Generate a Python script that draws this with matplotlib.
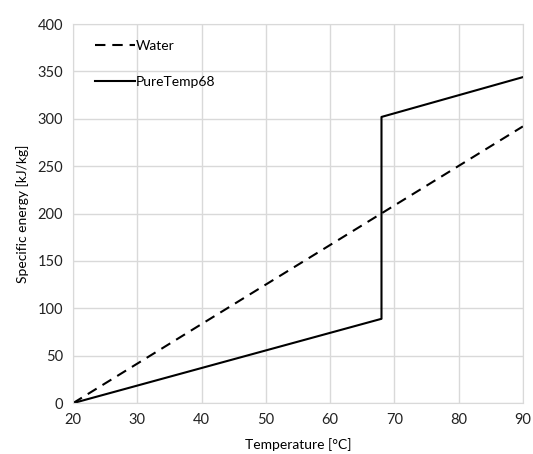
import numpy as np
import matplotlib.pyplot as plt

plt.rcParams['font.family'] = ['Lato', 'DejaVu Sans']

water_t = [20, 90]
water_e = [0, 292]

pcm_t = [20, 68, 68, 90]
pcm_e = [0, 89, 302, 344]

xticks = [20, 30, 40, 50, 60, 70, 80, 90]
yticks = [0, 50, 100, 150, 200, 250, 300, 350, 400]

fig = plt.figure(figsize=(5.33, 4.54), dpi=100)
ax = fig.add_axes([0.137, 0.112, 0.844, 0.835])

ax.plot(water_t, water_e, color='black', linestyle=(0, (5, 3.3)), linewidth=1.5, label='Water')
ax.plot(pcm_t, pcm_e, color='black', linestyle='-', linewidth=1.5, label='PureTemp68')

ax.set_xlim(20, 90)
ax.set_ylim(0, 400)
ax.set_xticks(xticks)
ax.set_yticks(yticks)
ax.grid(True, color='#d9d9d9', linewidth=1)
ax.set_axisbelow(True)
for s in ax.spines.values():
	s.set_color('#d9d9d9')
ax.tick_params(axis='both', length=0, labelsize=10.5, pad=7, colors='#222222')

ax.set_xlabel('Temperature [°C]', fontsize=10, labelpad=8)
ax.set_ylabel('Specific energy [kJ/kg]', fontsize=10, labelpad=6)

ax.legend(loc='upper left', frameon=False, fontsize=10, handlelength=2.9, handletextpad=0.1,
	labelspacing=1.7, bbox_to_anchor=(0.02, 0.99))

plt.savefig('out.png', dpi=100)
